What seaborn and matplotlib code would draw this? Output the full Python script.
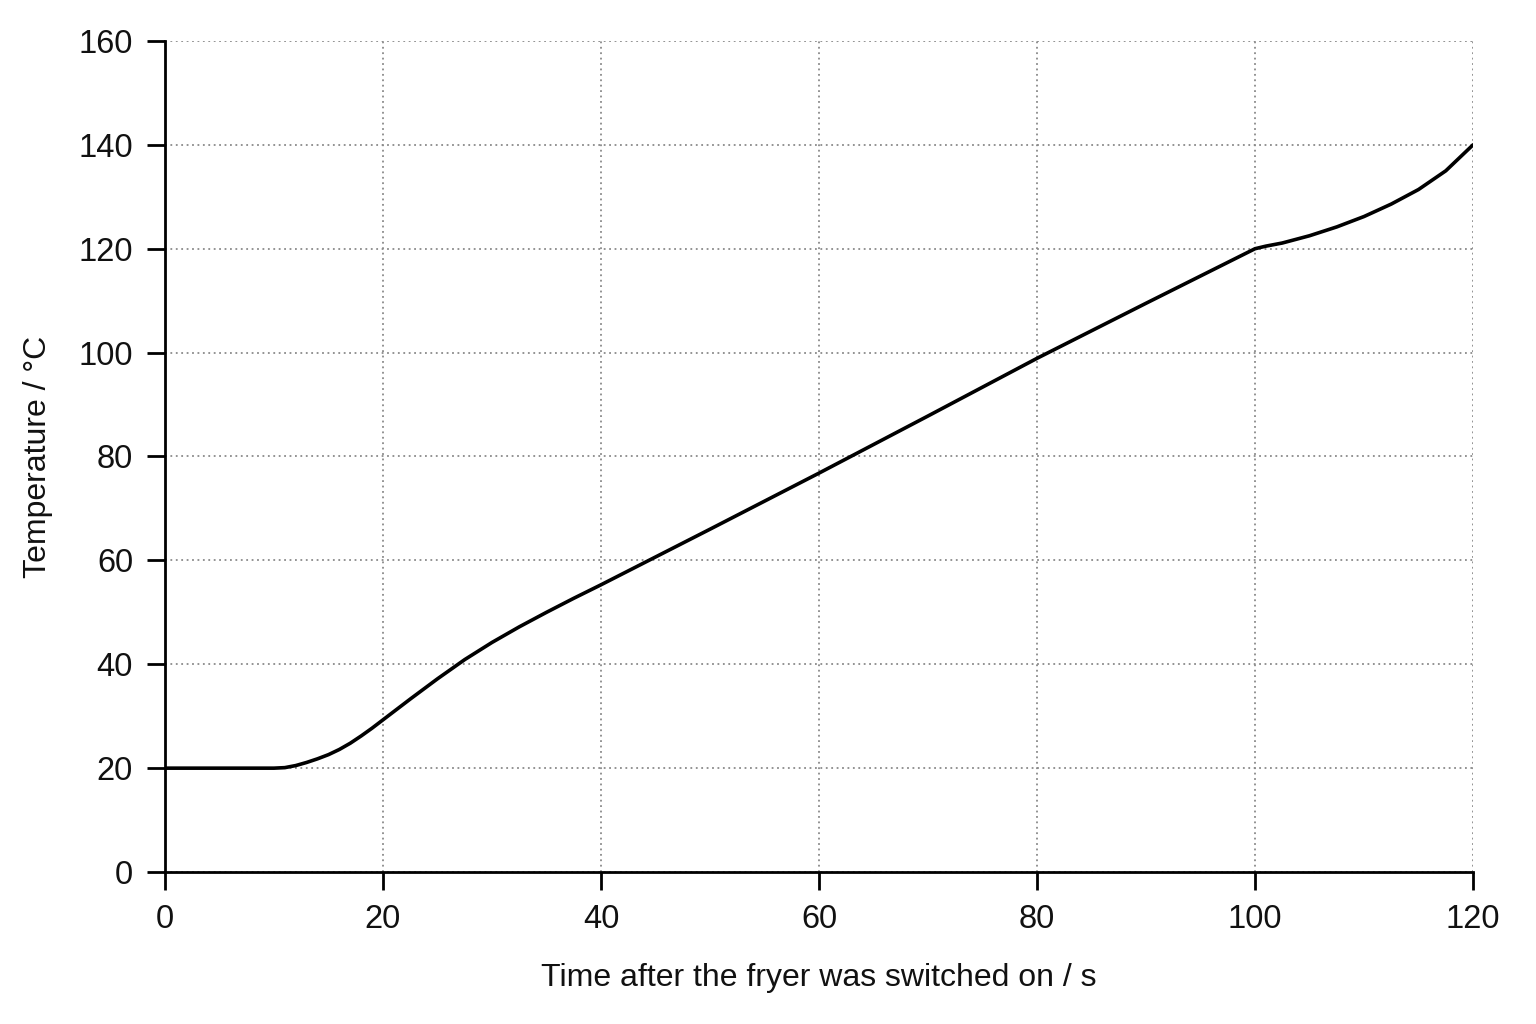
import matplotlib
matplotlib.use("Agg")
import matplotlib.pyplot as plt
import seaborn as sns
import pandas as pd

time_s = [0, 5, 10, 11, 12, 13, 14, 15, 16, 17, 18, 19, 20, 22.5, 25, 27.5, 30, 32.5, 35, 37.5, 40, 50, 60, 70, 80, 90, 100, 101, 102.5, 105, 107.5, 110, 112.5, 115, 117.5, 120]
temp_c = [20, 20, 20, 20.1, 20.5, 21.1, 21.8, 22.6, 23.6, 24.8, 26.2, 27.7, 29.3, 33.3, 37.2, 40.9, 44.2, 47.2, 50.0, 52.7, 55.3, 66.0, 76.8, 87.8, 98.9, 109.5, 120, 120.5, 121.1, 122.5, 124.2, 126.2, 128.6, 131.4, 135.0, 140]
x_ticks = [0, 20, 40, 60, 80, 100, 120]
y_ticks = [0, 20, 40, 60, 80, 100, 120, 140, 160]

df = pd.DataFrame({"t": time_s, "T": temp_c})

sns.set_theme(style="white")
plt.rcParams['font.family'] = ['Liberation Sans', 'DejaVu Sans']

fig = plt.figure(figsize=(15.36, 10.24), dpi=100)
ax = fig.add_axes([0.1074, 0.1484, 0.8516, 0.8116])
sns.lineplot(data=df, x="t", y="T", ax=ax, color="black", linewidth=2.6)
for ln in ax.get_lines():
    ln.set_solid_joinstyle("round")
    ln.set_solid_capstyle("round")

ax.set_xlim(0, 120)
ax.set_ylim(0, 160)
ax.set_xticks(x_ticks)
ax.set_yticks(y_ticks)
ax.grid(True, linestyle=(0, (1, 2)), color="#8a8a8a", linewidth=1.3)
for s in ["top", "right"]:
    ax.spines[s].set_visible(False)
for s in ["left", "bottom"]:
    ax.spines[s].set_color("black")
    ax.spines[s].set_linewidth(2.0)
ax.tick_params(axis="both", direction="out", length=13, width=2.0, color="black",
               labelsize=23.5, labelcolor="#111111", pad=10, bottom=True, left=True)
ax.set_xlabel("Time after the fryer was switched on / s", fontsize=23, labelpad=20, color="#111111")
ax.set_ylabel("Temperature / °C", fontsize=23, labelpad=18, color="#111111")

fig.savefig("out.png", dpi=100, facecolor="white")
